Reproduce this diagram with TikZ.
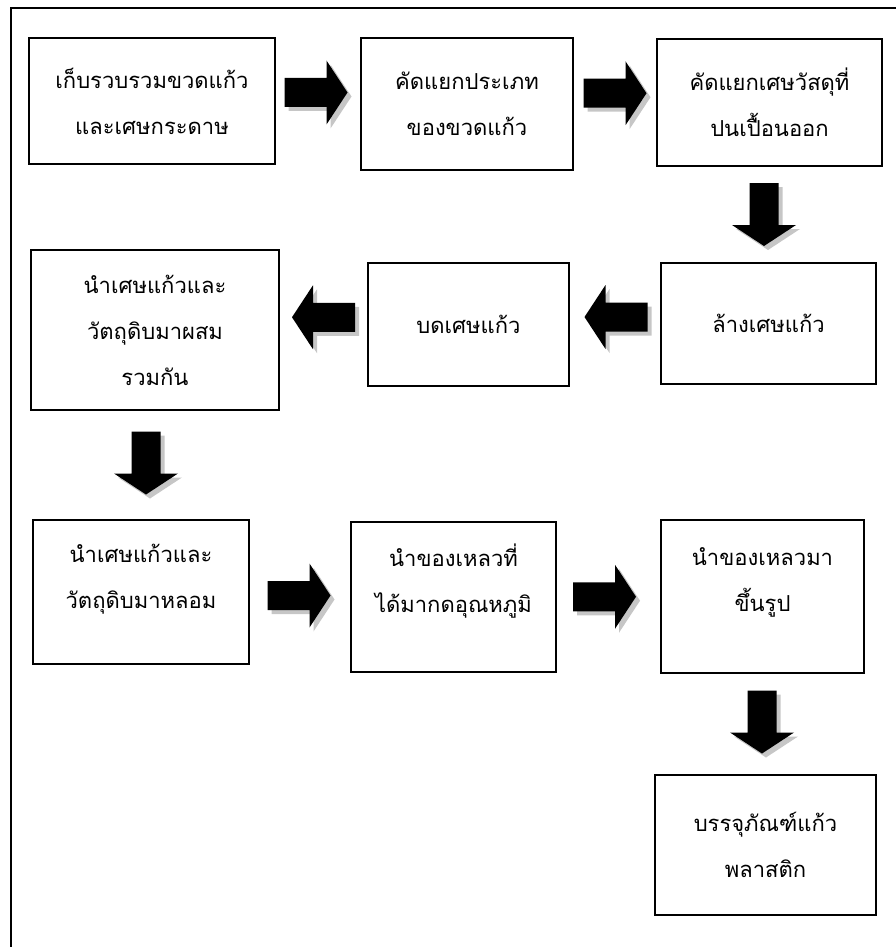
\documentclass[tikz,border=0pt]{standalone}
\usepackage{fontspec}
\newfontfamily\thaifont[Script=Thai]{Loma}
\usetikzlibrary{calc}

\begin{document}
\begin{tikzpicture}[x=1pt,y=-1pt,
  box/.style={draw,line width=1.5pt,inner sep=0pt,align=center,
    font=\thaifont\fontsize{22}{46}\selectfont}]
  \useasboundingbox (0,0) rectangle (896,947);
  \draw[line width=2pt] (11,947) -- (11,8) -- (896,8);
  % first row
  \node[box,minimum width=246pt,minimum height=126pt] (collect) at (152,101) {เก็บรวบรวมขวดแก้ว\\และเศษกระดาษ};
  \node[box,minimum width=212pt,minimum height=132pt] (sortkind) at (467,104) {คัดแยกประเภท\\ของขวดแก้ว};
  \node[box,minimum width=225pt,minimum height=127pt] (removedirt) at (769.5,102.5) {คัดแยกเศษวัสดุที่\\ปนเปื้อนออก};
  % second row
  \node[box,minimum width=215pt,minimum height=121pt] (wash) at (768.5,323.5) {ล้างเศษแก้ว};
  \node[box,minimum width=201pt,minimum height=123pt] (crush) at (468.5,324.5) {บดเศษแก้ว};
  \node[box,minimum width=248pt,minimum height=160pt] (mix) at (155,330) {นำเศษแก้วและ\\วัตถุดิบมาผสม\\รวมกัน};
  % third row
  \node[box,minimum width=216pt,minimum height=144pt] (melt) at (141,592) {นำเศษแก้วและ\\วัตถุดิบมาหลอม\\[-14pt]};
  \node[box,minimum width=205pt,minimum height=150pt] (cool) at (453.5,597) {นำของเหลวที่\\ได้มากดอุณหภูมิ\\[-8pt]};
  \node[box,minimum width=203pt,minimum height=153pt] (mould) at (762.5,596.5) {นำของเหลวมา\\ขึ้นรูป\\[-12pt]};
  \node[box,minimum width=221pt,minimum height=140pt] (pack) at (765.5,845) {บรรจุภัณฑ์แก้ว\\พลาสติก};
  % block arrows with their shadows
  \foreach \from/\to/\ang/\dx/\dy in {collect.east/sortkind.west/0/-2/-10,
      sortkind.east/removedirt.west/0/0/-10,
      removedirt.south/wash.north/-90/-5/0,
      wash.west/crush.east/180/1/-7,
      crush.west/mix.east/180/0/-10,
      mix.south/melt.north/-90/-2/-2,
      melt.east/cool.west/0/-1/1,
      cool.east/mould.west/0/-4/0,
      mould.south/pack.north/-90/-2/-2}
    \foreach \tone/\off in {gray!45/4pt,black/0pt}
      \fill[\tone,shift={($(\from)!.5!(\to)+(\dx,\dy)$)},xshift=\off,yshift=-\off,rotate=\ang]
        (-31.5,-14.5) -- (10.5,-14.5) -- (10.5,-32) -- (31.5,0) -- (10.5,32)
        -- (10.5,14.5) -- (-31.5,14.5) -- cycle;
\end{tikzpicture}
\end{document}
